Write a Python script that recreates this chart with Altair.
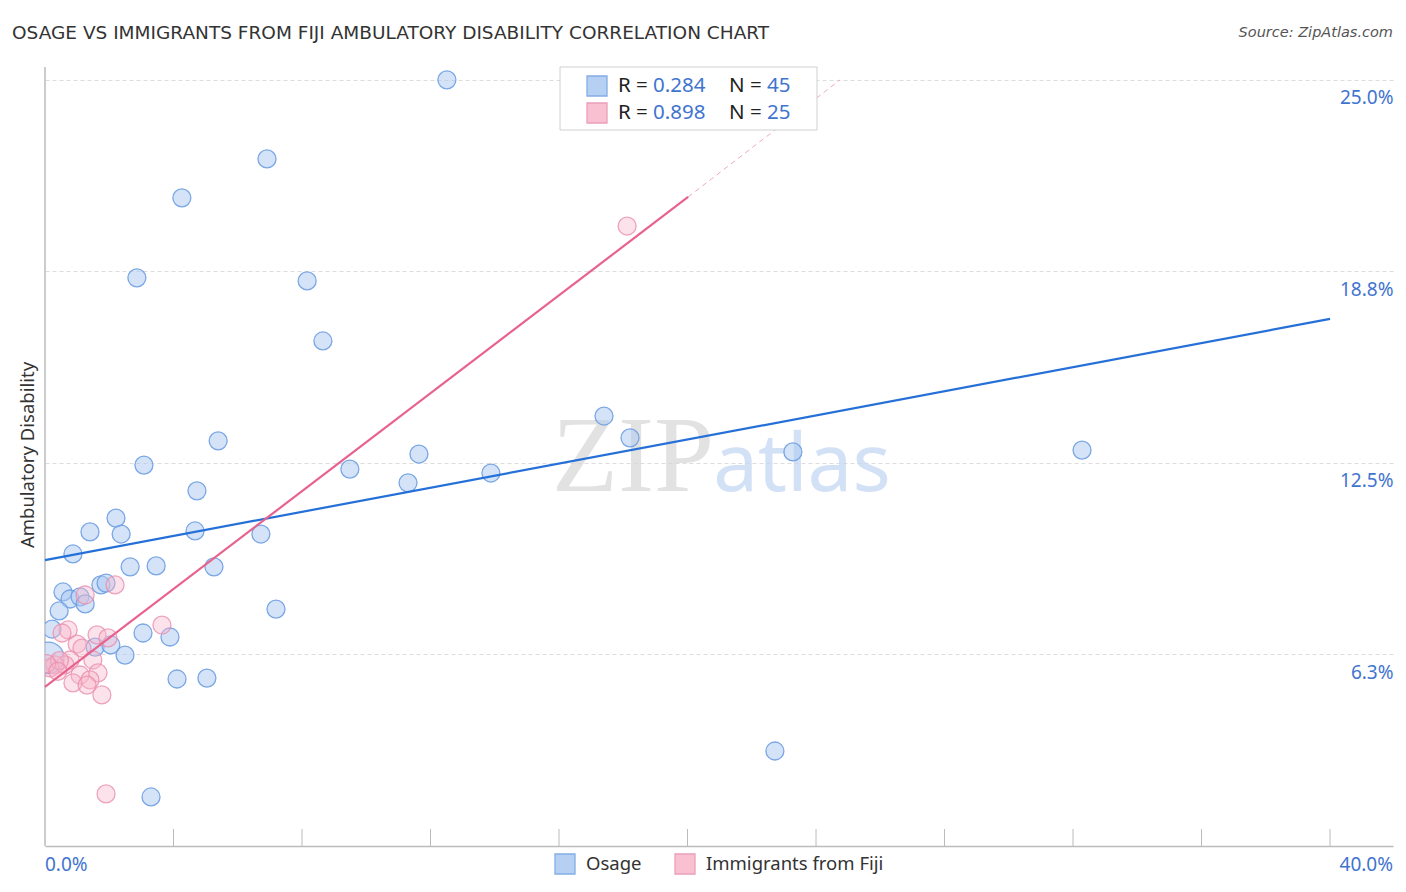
import altair as alt
import pandas as pd

# ---- data ----
osage_x = [12.51, 6.91, 4.26, 2.86, 8.16, 8.65, 17.40, 18.21, 5.39, 11.64,
           23.28, 32.28, 3.08, 9.49, 13.88, 11.30, 4.73, 2.21, 1.40, 4.67,
           2.37, 6.72, 0.87, 2.65, 3.46, 5.26, 1.74, 1.90, 0.56, 0.78,
           1.09, 1.25, 0.44, 7.19, 0.22, 3.05, 3.89, 1.56, 2.05, 2.49,
           4.11, 5.04, 22.72, 3.30, 0.10]
osage_y = [25.00, 22.42, 21.15, 18.54, 18.44, 16.48, 14.03, 13.32, 13.22, 12.79,
           12.86, 12.92, 12.43, 12.30, 12.17, 11.85, 11.59, 10.70, 10.25, 10.28,
           10.18, 10.18, 9.53, 9.11, 9.14, 9.11, 8.52, 8.58, 8.29, 8.06,
           8.13, 7.90, 7.67, 7.73, 7.08, 6.95, 6.82, 6.49, 6.56, 6.23,
           5.45, 5.48, 3.10, 1.60, 6.14]
osage_size = [324] * 44 + [1000]

fiji_x = [18.12, 2.18, 1.25, 3.64, 0.72, 0.53, 1.62, 1.96, 1.00, 1.15,
          1.49, 0.78, 0.62, 0.31, 0.16, 1.65, 1.09, 1.40, 0.87, 1.31,
          1.77, 1.90, 0.45, 0.05, 0.40]
fiji_y = [20.23, 8.52, 8.19, 7.21, 7.05, 6.95, 6.89, 6.79, 6.59, 6.46,
          6.07, 6.07, 5.91, 5.91, 5.81, 5.65, 5.58, 5.42, 5.32, 5.25,
          4.93, 1.70, 6.05, 5.95, 5.70]

osage_trend_x = [0.0, 40.0]
osage_trend_y = [9.33, 17.20]
fiji_trend_x = [0.0, 20.02]
fiji_trend_y = [5.19, 21.18]
fiji_ext_x = [20.02, 24.75]
fiji_ext_y = [21.18, 25.0]

y_ticks = [6.25, 12.5, 18.75, 25.0]
x_ticks = [4, 8, 12, 16, 20, 24, 28, 32, 36, 40]
x_labels = ["0.0%", "40.0%"]
x_label_vals = [0, 40]

legend_r = ["0.284", "0.898"]
legend_n = ["45", "25"]
series = ["Osage", "Immigrants from Fiji"]

BLUE_FILL = "#aac8f2"
BLUE_STROKE = "#6e9fe2"
PINK_FILL = "#f7b6ca"
PINK_STROKE = "#ea8fae"
BLUE_LINE = "#2470d8"
PINK_LINE = "#e8628e"
LABEL_BLUE = "#3f74cf"
FONT = "Noto Sans"

W, H = 1348, 779
xs = alt.Scale(domain=[0, 41.96], nice=False, zero=False)
ys = alt.Scale(domain=[0, 25.42], nice=False, zero=False)

one = pd.DataFrame({"a": [0]})

osage_df = pd.DataFrame({"x": osage_x, "y": osage_y, "s": osage_size})
fiji_df = pd.DataFrame({"x": fiji_x, "y": fiji_y})

grid = alt.Chart(pd.DataFrame({"y": y_ticks})).mark_point(opacity=0).encode(
    x=alt.value(0),
    y=alt.Y("y:Q", scale=ys, axis=alt.Axis(
        orient="right", values=y_ticks, grid=True, gridColor="#dddddd",
        gridDash=[4, 3], domain=False, ticks=False, labelAlign="right",
        labelPadding=0, labelOffset=18, labelFontSize=19, labelColor=LABEL_BLUE,
        labelFont=FONT, labelExpr="format(datum.value, '.1f') + '%'", title=None)),
)

base_x_axis = alt.Chart(pd.DataFrame({"x": x_ticks})).mark_rule(
    color="#bbbbbb", strokeWidth=1).encode(
    x=alt.X("x:Q", scale=xs, axis=alt.Axis(domain=True, domainColor="#bbbbbb",
                                           domainWidth=1.5, labels=False, ticks=False,
                                           grid=False, title=None)),
    y=alt.value(H - 17), y2=alt.value(H),
)

left_line = alt.Chart(one).mark_rule(color="#bbbbbb", strokeWidth=1.5).encode(
    x=alt.value(0), y=alt.value(0), y2=alt.value(H))

x_lab0 = alt.Chart(pd.DataFrame({"x": [x_label_vals[0]], "t": [x_labels[0]]})).mark_text(
    fontSize=19, color=LABEL_BLUE, font=FONT, baseline="middle", align="left").encode(
    x=alt.X("x:Q", scale=xs), y=alt.value(H + 19), text="t:N")
x_lab1 = alt.Chart(pd.DataFrame({"x": [x_label_vals[1]], "t": [x_labels[1]]})).mark_text(
    fontSize=19, color=LABEL_BLUE, font=FONT, baseline="middle", align="right", dx=63).encode(
    x=alt.X("x:Q", scale=xs), y=alt.value(H + 19), text="t:N")

wm1 = alt.Chart(one).mark_text(text="ZIP", font="Liberation Serif", fontSize=108,
                               color="#d6d6d6", opacity=0.7, align="center",
                               baseline="alphabetic").encode(
    x=alt.value(588), y=alt.value(424))
wm2 = alt.Chart(one).mark_text(text="atlas", font=FONT, fontSize=80,
                               color="#c3d7f2", opacity=0.75, align="center",
                               baseline="alphabetic").encode(
    x=alt.value(757), y=alt.value(424))

pts_osage = alt.Chart(osage_df).mark_circle(
    color=BLUE_FILL, fillOpacity=0.5, stroke=BLUE_STROKE, strokeWidth=1.3,
    strokeOpacity=0.9, clip=True).encode(
    x=alt.X("x:Q", scale=xs), y=alt.Y("y:Q", scale=ys),
    size=alt.Size("s:Q", scale=None, legend=None))

pts_fiji = alt.Chart(fiji_df).mark_circle(
    size=324, color=PINK_FILL, fillOpacity=0.4, stroke=PINK_STROKE, strokeWidth=1.3,
    strokeOpacity=0.8, clip=True).encode(
    x=alt.X("x:Q", scale=xs), y=alt.Y("y:Q", scale=ys))

line_osage = alt.Chart(pd.DataFrame({"x": osage_trend_x, "y": osage_trend_y})).mark_line(
    color=BLUE_LINE, strokeWidth=2.2).encode(x=alt.X("x:Q", scale=xs), y=alt.Y("y:Q", scale=ys))
line_fiji = alt.Chart(pd.DataFrame({"x": fiji_trend_x, "y": fiji_trend_y})).mark_line(
    color=PINK_LINE, strokeWidth=2.2).encode(x=alt.X("x:Q", scale=xs), y=alt.Y("y:Q", scale=ys))
line_ext = alt.Chart(pd.DataFrame({"x": fiji_ext_x, "y": fiji_ext_y})).mark_line(
    color="#f0a7bf", strokeWidth=1, strokeDash=[5, 4]).encode(
    x=alt.X("x:Q", scale=xs), y=alt.Y("y:Q", scale=ys))

# top legend box
legend_layers = [alt.Chart(one).mark_rect(fill="white", stroke="#d0d0d0", strokeWidth=1).encode(
    x=alt.value(515), x2=alt.value(772), y=alt.value(0), y2=alt.value(63))]
row_y = [19, 46]
fills = [BLUE_FILL, PINK_FILL]
strokes = [BLUE_STROKE, PINK_STROKE]
for i in range(2):
    d = pd.DataFrame({"r": [legend_r[i]], "n": [legend_n[i]]})
    legend_layers += [
        alt.Chart(d).mark_square(size=400, opacity=0.85, strokeWidth=1.3,
                                 fill=fills[i], stroke=strokes[i]).encode(
            x=alt.value(552), y=alt.value(row_y[i])),
        alt.Chart(d).mark_text(text="R = ", fontSize=20.5, font=FONT, color="#222",
                               align="left", baseline="middle").encode(
            x=alt.value(573), y=alt.value(row_y[i])),
        alt.Chart(d).mark_text(fontSize=20.5, font=FONT, color=LABEL_BLUE,
                               align="left", baseline="middle").encode(
            x=alt.value(608), y=alt.value(row_y[i]), text="r:N"),
        alt.Chart(d).mark_text(text="N = ", fontSize=20.5, font=FONT, color="#222",
                               align="left", baseline="middle").encode(
            x=alt.value(684), y=alt.value(row_y[i])),
        alt.Chart(d).mark_text(fontSize=20.5, font=FONT, color=LABEL_BLUE,
                               align="left", baseline="middle").encode(
            x=alt.value(722), y=alt.value(row_y[i]), text="n:N"),
    ]

# bottom legend
sq_x = [520, 640]
tx_x = [541, 661]
for i in range(2):
    d = pd.DataFrame({"name": [series[i]]})
    legend_layers += [
        alt.Chart(d).mark_square(size=400, opacity=0.85, strokeWidth=1.3,
                                 fill=fills[i], stroke=strokes[i]).encode(
            x=alt.value(sq_x[i]), y=alt.value(H + 18)),
        alt.Chart(d).mark_text(fontSize=18.5, font=FONT, color="#333",
                               align="left", baseline="middle").encode(
            x=alt.value(tx_x[i]), y=alt.value(H + 18), text="name:N"),
    ]

title = alt.Chart(one).mark_text(
    text="OSAGE VS IMMIGRANTS FROM FIJI AMBULATORY DISABILITY CORRELATION CHART",
    fontSize=18.5, font="DejaVu Sans", color="#333", align="left", baseline="middle").encode(
    x=alt.value(-33), y=alt.value(-34))
source = alt.Chart(one).mark_text(
    text="Source: ZipAtlas.com", fontSize=14.5, font="DejaVu Sans", fontStyle="italic",
    color="#555", align="right", baseline="middle").encode(
    x=alt.value(W), y=alt.value(-34))
ytitle = alt.Chart(one).mark_text(
    text="Ambulatory Disability", fontSize=18.5, font=FONT, color="#333",
    align="center", baseline="middle", angle=270).encode(
    x=alt.value(-17), y=alt.value(388))

chart = alt.layer(
    grid, wm1, wm2, base_x_axis, left_line, pts_osage, pts_fiji,
    line_osage, line_fiji, line_ext, x_lab0, x_lab1,
    *legend_layers, title, source, ytitle,
).properties(
    width=W, height=H,
    autosize=alt.AutoSizeParams(type="none"),
    padding={"left": 37, "top": 59, "right": 5, "bottom": 38},
).configure_view(stroke=None)

chart.save("out.html", embed_options={"renderer": "svg", "actions": False})
